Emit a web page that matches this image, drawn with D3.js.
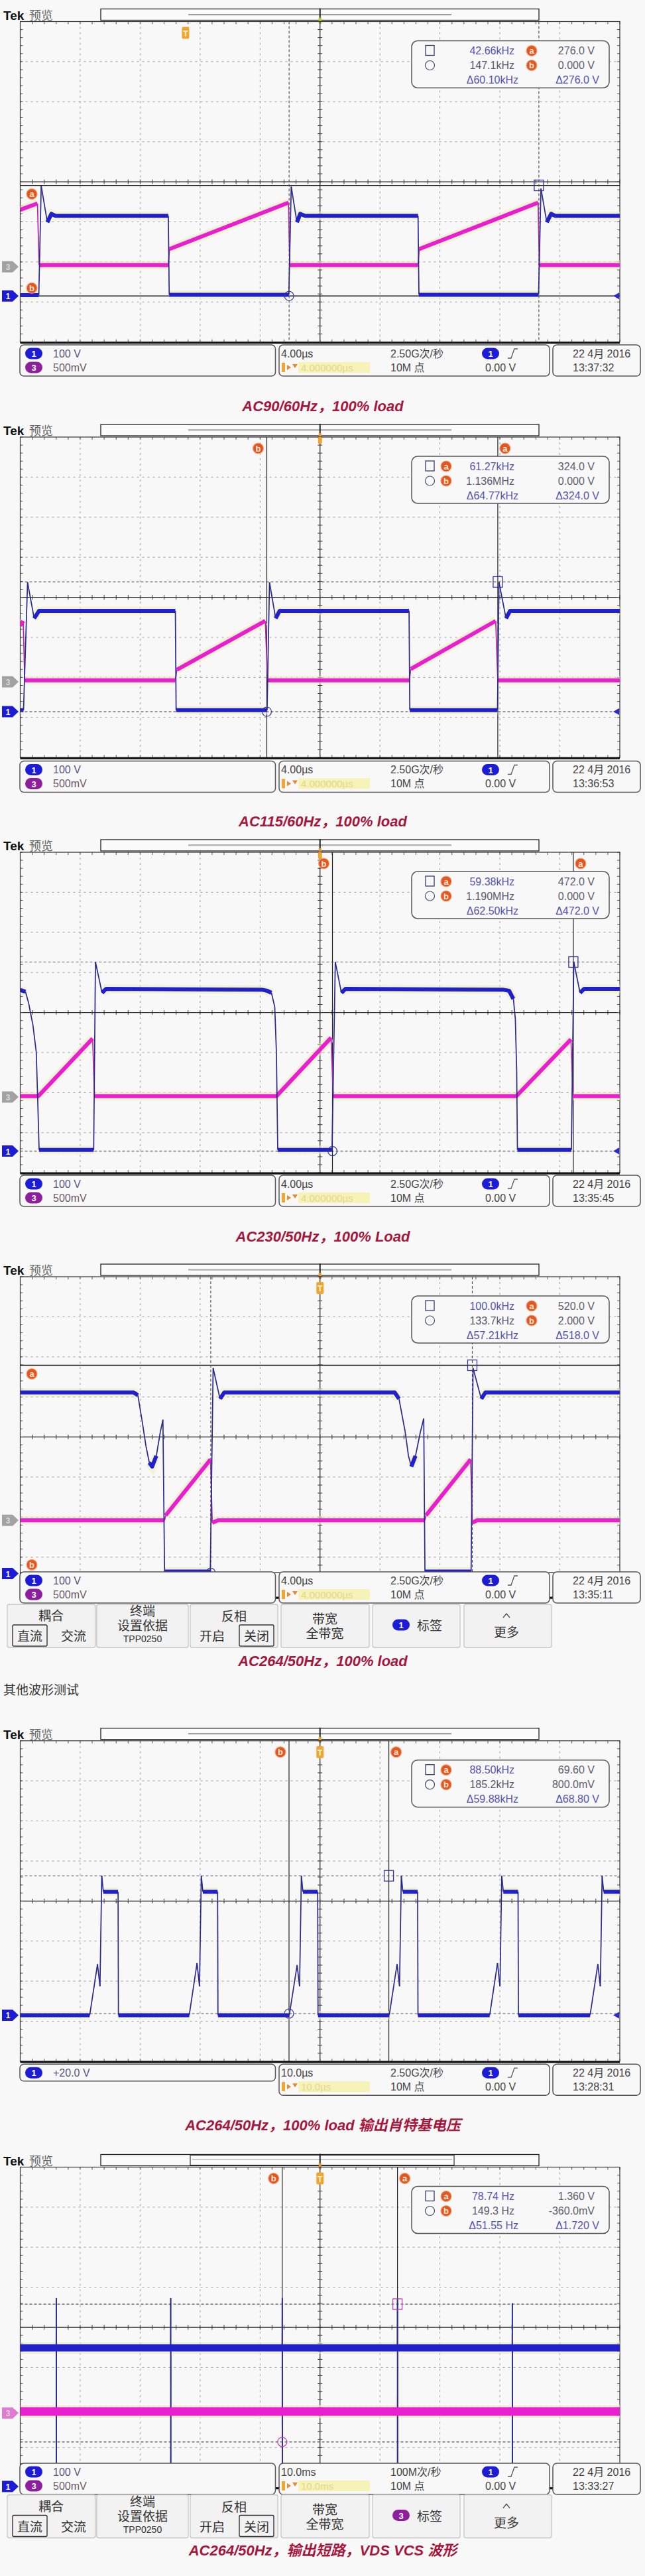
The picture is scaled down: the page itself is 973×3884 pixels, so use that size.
<!DOCTYPE html>
<html><head><meta charset="utf-8">
<script src="https://cdn.jsdelivr.net/npm/d3@7"></script>
<style>body{margin:0;background:#f8f8f8;} svg{display:block;}</style>
</head><body>
<svg id="c" width="973" height="3884"></svg>
<script>
// ---------------- DATA ----------------
const captions = [
  "AC90/60Hz，100% load",
  "AC115/60Hz，100% load",
  "AC230/50Hz，100% Load",
  "AC264/50Hz，100% load",
  "AC264/50Hz，100% load 输出肖特基电压",
  "AC264/50Hz，输出短路，VDS VCS 波形"
];
const sectionLabel = "其他波形测试";
const timePerDiv = [4, 4, 4, 4, 10, 10];
const timebaseText = ["4.00µs", "4.00µs", "4.00µs", "4.00µs", "10.0µs", "10.0ms"];
const sampleRateText = ["2.50G次/秒", "2.50G次/秒", "2.50G次/秒", "2.50G次/秒", "2.50G次/秒", "100M次/秒"];
const recordText = ["10M 点", "10M 点", "10M 点", "10M 点", "10M 点", "10M 点"];
const trigLevelText = ["0.00 V", "0.00 V", "0.00 V", "0.00 V", "0.00 V", "0.00 V"];
const dateText = ["22 4月 2016", "22 4月 2016", "22 4月 2016", "22 4月 2016", "22 4月 2016", "22 4月 2016"];
const clockText = ["13:37:32", "13:36:53", "13:35:45", "13:35:11", "13:28:31", "13:33:27"];
const chScaleText = [
  [["1", "100 V"], ["3", "500mV"]],
  [["1", "100 V"], ["3", "500mV"]],
  [["1", "100 V"], ["3", "500mV"]],
  [["1", "100 V"], ["3", "500mV"]],
  [["1", "+20.0 V"]],
  [["1", "100 V"], ["3", "500mV"]]
];
const measFreq = [
  ["42.66kHz", "147.1kHz", "Δ60.10kHz"],
  ["61.27kHz", "1.136MHz", "Δ64.77kHz"],
  ["59.38kHz", "1.190MHz", "Δ62.50kHz"],
  ["100.0kHz", "133.7kHz", "Δ57.21kHz"],
  ["88.50kHz", "185.2kHz", "Δ59.88kHz"],
  ["78.74 Hz", "149.3 Hz", "Δ51.55 Hz"]
];
const measVolt = [
  ["276.0 V", "0.000 V", "Δ276.0 V"],
  ["324.0 V", "0.000 V", "Δ324.0 V"],
  ["472.0 V", "0.000 V", "Δ472.0 V"],
  ["520.0 V", "2.000 V", "Δ518.0 V"],
  ["69.60 V", "800.0mV", "Δ68.80 V"],
  ["1.360 V", "-360.0mV", "Δ1.720 V"]
];
// cursor values: [a, b]
const cursorTime = [[14.6, -2.06], [11.86, -3.55], [16.9, 0.83], [10.16, -7.29], [11.48, -5.17], [12.92, -6.3]];
const cursorVolt = [[276, 0], [324, 0], [472, 0], [520, 2], [69.6, 0.8], [1.36, -0.36]];
const triggerTime = [-8.97, 0, 0, 0, 0, 0];
const menuLabels = ["耦合", "直流", "交流", "终端", "设置依据", "TPP0250", "反相", "开启", "关闭", "带宽", "全带宽", "标签", "更多"];

// traces: [time, volts]
const p1Ch1 = [[-20,2],[-18.76,2],[-18.6,275],[-18.19,184],[-17.92,205],[-17.64,200],[-10.12,200],[-10.06,3],[-2.08,3],[-1.92,273],[-1.54,184],[-1.32,205],[-0.99,200],[6.54,200],[6.6,3],[14.58,3],[14.74,268],[15.13,184],[15.42,205],[15.7,200],[20,200]];
const p1Ch3 = [[-20,0.71],[-18.85,0.79],[-18.74,0.02],[-10.12,0.02],[-10.04,0.22],[-2.1,0.80],[-2.02,0.02],[6.54,0.02],[6.62,0.22],[14.55,0.80],[14.63,0.02],[20,0.02]];

const p2Ch1 = [[-20,4],[-19.78,4],[-19.51,323],[-19.07,233],[-18.74,252],[-9.65,252],[-9.6,4],[-3.53,4],[-3.37,323],[-2.96,233],[-2.69,252],[5.94,252],[5.99,4],[11.84,4],[11.94,323],[12.41,233],[12.68,252],[20,252]];
const p2Ch3 = [[-20,0.70],[-19.8,0.76],[-19.7,0.02],[-9.65,0.02],[-9.55,0.15],[-3.65,0.76],[-3.5,0.02],[5.96,0.02],[6.06,0.16],[11.72,0.76],[11.86,0.02],[20,0.02]];

const p3Ch1 = [[-20,402],[-19.65,398],[-19.43,368],[-19.15,314],[-18.93,247],[-18.82,112],[-18.74,3],[-15.1,3],[-14.98,472],[-14.54,395],[-14.27,405],[-3.9,403],[-3.51,400],[-3.24,395],[-3.02,360],[-2.91,247],[-2.82,3],[0.8,3],[1.02,472],[1.43,395],[1.7,405],[12.2,403],[12.62,400],[12.9,380],[13.03,330],[13.12,200],[13.17,3],[16.77,3],[16.93,472],[17.35,395],[17.62,405],[20,405]];
const p3Ch3 = [[-20,0.01],[-18.8,0.01],[-15.17,0.73],[-15.04,0.01],[-2.91,0.01],[0.74,0.74],[0.88,0.01],[13.09,0.01],[16.74,0.72],[16.88,0.01],[20,0.01]];

const p4Ch1 = [[-20,452],[-12.43,452],[-12.15,445],[-11.88,384],[-11.61,318],[-11.39,277],[-11.2,267],[-10.92,294],[-10.65,354],[-10.48,384],[-10.37,5],[-7.32,5],[-7.13,513],[-6.67,436],[-6.39,452],[4.99,452],[5.27,436],[5.68,354],[5.9,294],[6.09,267],[6.37,294],[6.7,354],[6.92,387],[7.0,5],[10.08,5],[10.21,513],[10.76,436],[11.03,452],[20,452]];
const p4Ch3 = [[-20,0],[-10.37,0],[-10.3,0.06],[-7.3,0.76],[-7.19,-0.03],[-6.8,0],[7.0,0],[7.07,0.06],[10.05,0.76],[10.16,-0.03],[10.48,0],[20,0]];

const p5Ch1 = [[-50,0],
  [-38.41,0],[-37.11,25.5],[-36.70,14.4],[-36.40,69.6],[-36.14,61.6],[-33.68,61.6],[-33.62,0],
  [-21.81,0],[-20.51,26],[-20.10,14.4],[-19.80,69.6],[-19.54,61.6],[-17.08,61.6],[-17.02,0],
  [-5.12,0],[-3.82,25],[-3.41,14.4],[-3.11,69.6],[-2.85,61.6],[-0.39,61.6],[-0.33,0],
  [11.55,0],[12.85,25.5],[13.26,14.4],[13.56,69.6],[13.82,61.6],[16.28,61.6],[16.34,0],
  [28.30,0],[29.60,26],[30.01,14.4],[30.31,69.6],[30.57,61.6],[33.03,61.6],[33.09,0],
  [45.04,0],[46.34,25.5],[46.75,14.4],[47.05,69.6],[47.31,61.6],[50,61.6]];

const p6Ch1 = [[-50,346],[-44.0,346],[-43.98,470],[-43.97,0],[-43.96,346],[-24.92,346],[-24.9,470],[-24.89,0],[-24.88,346],[-6.32,346],[-6.3,470],[-6.29,0],[-6.28,346],[12.9,346],[12.92,470],[12.93,0],[12.94,346],[32.05,346],[32.07,457],[32.08,0],[32.09,346],[50,346]];
const p6Ch3 = [[-50,0.02],[50,0.02]];

// ---------------- LAYOUT / STYLE ----------------
const svg = d3.select('#c');
const GX0 = 30.5, GX1 = 935, DY = 60.4, GH = 8 * DY;
const FONT = "'Liberation Sans', 'Noto Sans CJK SC', sans-serif";
const CJK = "'Noto Sans CJK SC', 'Liberation Sans', sans-serif";
const BLUE = {color: '#2121cc', thin: '#2a2a8c', halo: '#f2eec0'};
const MAG = {color: '#e91fcf', thin: '#b3289f', halo: '#f2eec0'};

svg.append('rect').attr('width', 973).attr('height', 3884).attr('fill', '#f8f8f8');

const panels = [
  {gt: 32.5, ch: {1: {vdiv: 100, pos: -2.85}, 3: {vdiv: 0.5, pos: -2.12}}, traces: [[3, p1Ch3, 6], [1, p1Ch1, 6]],
   curCh: 1, hStyle: 'solid', vStyle: 'dash', badgeMode: 'h', measBadge: 'right', infoOff: 487.5, menu: false, capY: 612, tBadge: true, ch3Color: '#a2a2a2', rightArrow: true},
  {gt: 659, ch: {1: {vdiv: 100, pos: -2.856}, 3: {vdiv: 0.5, pos: -2.11}}, traces: [[3, p2Ch3, 6], [1, p2Ch1, 6]],
   curCh: 1, hStyle: 'dash', vStyle: 'solid', badgeMode: 'v', measBadge: 'left', infoOff: 488.5, menu: false, capY: 1238, tBadge: false, ch3Color: '#a2a2a2', rightArrow: true},
  {gt: 1285, ch: {1: {vdiv: 100, pos: -3.46}, 3: {vdiv: 0.5, pos: -2.11}}, traces: [[3, p3Ch3, 6], [1, p3Ch1, 6]],
   curCh: 1, hStyle: 'dash', vStyle: 'solid', badgeMode: 'v', measBadge: 'left', infoOff: 487, menu: false, capY: 1864, tBadge: false, ch3Color: '#a2a2a2', rightArrow: true},
  {gt: 1925, ch: {1: {vdiv: 100, pos: -3.41}, 3: {vdiv: 0.5, pos: -2.08}}, traces: [[3, p4Ch3, 6], [1, p4Ch1, 6]],
   curCh: 1, hStyle: 'solid', vStyle: 'dash', badgeMode: 'h', measBadge: 'right', infoOff: 445, menu: true, menuBadge: '1', capY: 2504, tBadge: true, ch3Color: '#a2a2a2', rightArrow: false},
  {gt: 2624.7, ch: {1: {vdiv: 20, pos: -2.85}}, traces: [[1, p5Ch1, 6]],
   curCh: 1, hStyle: 'dash', vStyle: 'solid', badgeMode: 'v', measBadge: 'left', infoOff: 487.5, menu: false, capY: 3204, tBadge: true, rightArrow: true},
  {gt: 3267.5, ch: {1: {vdiv: 100, pos: -3.97}, 3: {vdiv: 0.5, pos: -2.14}}, traces: [[1, p6Ch1, 11], [3, p6Ch3, 13]],
   curCh: 3, hStyle: 'dash', vStyle: 'solid', badgeMode: 'v', measBadge: 'left', infoOff: 446.5, menu: true, menuBadge: '3', capY: 3845, tBadge: true, ch3Color: '#e07ad2', rightArrow: false, zoomBox: true, markColor: '#c23cc0'}
];

function txt(g, x, y, s, opt) {
  opt = opt || {};
  return g.append('text').attr('x', x).attr('y', y)
    .attr('font-family', opt.family || FONT).attr('font-size', opt.size || 15)
    .attr('font-weight', opt.weight || 'normal').attr('font-style', opt.style || 'normal')
    .attr('fill', opt.fill || '#444').attr('text-anchor', opt.anchor || 'start').text(s);
}
function curBadge(g, x, y, letter) {
  g.append('circle').attr('cx', x).attr('cy', y).attr('r', 8).attr('fill', '#e2561f').attr('stroke', '#f4a47c').attr('stroke-width', 1.2);
  txt(g, x, y + 4.5, letter, {size: 13, weight: 'bold', fill: '#ffe9dc', anchor: 'middle'});
}
function trigBadge(g, x, y) {
  g.append('rect').attr('x', x - 5.5).attr('y', y - 9).attr('width', 11).attr('height', 18).attr('rx', 2).attr('fill', '#f0a532');
  txt(g, x, y + 5, 'T', {size: 12, weight: 'bold', fill: '#fff6d0', anchor: 'middle'});
}
function chBadge(g, x, y, n) {
  g.append('rect').attr('x', x - 13).attr('y', y - 8.5).attr('width', 26).attr('height', 17).attr('rx', 8.5)
    .attr('fill', n === '1' ? '#1c1cd6' : '#8d1f9d');
  txt(g, x, y + 5, n, {size: 13, weight: 'bold', fill: '#fff', anchor: 'middle'});
}
function chMarker(g, y, color, n) {
  g.append('path').attr('d', `M3,${y - 8.5}H19L28,${y}L19,${y + 8.5}H3Z`).attr('fill', color);
  txt(g, 12, y + 5, n, {size: 12, weight: 'bold', fill: color === '#1c1cd6' ? '#fff' : '#d8d8d8', anchor: 'middle'});
}

function drawTrace(haloL, lineL, data, xs, ys, st, w) {
  const pts = data.map(d => [xs(d[0]), ys(d[1])]);
  const runs = [], thin = [];
  let cur = [pts[0]];
  for (let i = 1; i < pts.length; i++) {
    const dx = Math.abs(pts[i][0] - pts[i - 1][0]), dy = Math.abs(pts[i][1] - pts[i - 1][1]);
    if (dy > 6 && dy > 3 * dx) {
      if (cur.length > 1) runs.push(cur);
      thin.push([pts[i - 1], pts[i]]);
      cur = [pts[i]];
    } else cur.push(pts[i]);
  }
  if (cur.length > 1) runs.push(cur);
  const line = d3.line();
  runs.forEach(r => haloL.append('path').attr('d', line(r)).attr('fill', 'none').attr('stroke', st.halo)
    .attr('stroke-width', w + 7).attr('opacity', 0.6));
  thin.forEach(s => lineL.append('path').attr('d', line(s)).attr('fill', 'none').attr('stroke', st.thin).attr('stroke-width', 1.7));
  runs.forEach(r => lineL.append('path').attr('d', line(r)).attr('fill', 'none').attr('stroke', st.color)
    .attr('stroke-width', w).attr('stroke-linejoin', 'round'));
}

function drawPanel(c, i) {
  const g = svg.append('g');
  const gt = c.gt, gb = gt + GH;
  const tdiv = timePerDiv[i];
  const xs = d3.scaleLinear().domain([-5 * tdiv, 5 * tdiv]).range([GX0, GX1]);
  const yd = d3.scaleLinear().domain([-4, 4]).range([gb, gt]);
  const ys = {};
  Object.keys(c.ch).forEach(k => {
    const ch = c.ch[k];
    ys[k] = d3.scaleLinear().domain([(-4 - ch.pos) * ch.vdiv, (4 - ch.pos) * ch.vdiv]).range([gb, gt]);
  });
  const cx = xs(0), cy = yd(0);

  // header
  txt(g, 5, gt - 3, 'Tek', {size: 19, weight: 'bold', fill: '#111'});
  txt(g, 44, gt - 3, '预览', {size: 18, family: CJK, fill: '#666'});
  g.append('rect').attr('x', 152).attr('y', gt - 19).attr('width', 661).attr('height', 17).attr('fill', '#fbfbfb').attr('stroke', '#222').attr('stroke-width', 1.3);
  if (c.zoomBox) {
    g.append('rect').attr('x', 287).attr('y', gt - 18).attr('width', 398).attr('height', 15).attr('fill', 'none').attr('stroke', '#333').attr('stroke-width', 1.2);
    g.append('line').attr('x1', 290).attr('x2', 682).attr('y1', gt - 12).attr('y2', gt - 12).attr('stroke', '#999');
  } else {
    g.append('line').attr('x1', 284).attr('x2', 681).attr('y1', gt - 11).attr('y2', gt - 11).attr('stroke', '#777');
    g.append('line').attr('x1', 284).attr('x2', 681).attr('y1', gt - 9.5).attr('y2', gt - 9.5).attr('stroke', '#ccc');
  }
  g.append('line').attr('x1', cx).attr('x2', cx).attr('y1', gt - 20).attr('y2', gt).attr('stroke', '#222').attr('stroke-width', 2);
  g.append('rect').attr('x', cx - 2).attr('y', gt - 6).attr('width', 4).attr('height', 9).attr('fill', i === 0 ? '#b8c030' : '#e89a30');

  // grid
  const grid = g.append('g');
  d3.range(-4, 5).filter(k => k !== 0).forEach(k => {
    grid.append('line').attr('x1', xs(k * tdiv)).attr('x2', xs(k * tdiv)).attr('y1', gt).attr('y2', gb)
      .attr('stroke', '#9a9a9a').attr('stroke-dasharray', '3,5');
  });
  d3.range(-3, 4).filter(k => k !== 0).forEach(k => {
    grid.append('line').attr('x1', GX0).attr('x2', GX1).attr('y1', yd(k)).attr('y2', yd(k))
      .attr('stroke', '#9a9a9a').attr('stroke-dasharray', '3,5');
  });
  grid.append('line').attr('x1', GX0).attr('x2', GX1).attr('y1', cy).attr('y2', cy).attr('stroke', '#222').attr('stroke-width', 1.2);
  grid.append('line').attr('x1', cx).attr('x2', cx).attr('y1', gt).attr('y2', gb).attr('stroke', '#222').attr('stroke-width', 1.2);
  d3.range(-25, 26).forEach(k => {
    const x = xs(k * 0.2 * tdiv);
    grid.append('line').attr('x1', x).attr('x2', x).attr('y1', cy - 3.5).attr('y2', cy + 3.5).attr('stroke', '#333');
    grid.append('line').attr('x1', x).attr('x2', x).attr('y1', gt).attr('y2', gt + 4).attr('stroke', '#555');
    grid.append('line').attr('x1', x).attr('x2', x).attr('y1', gb - 4).attr('y2', gb).attr('stroke', '#555');
  });
  d3.range(-20, 21).forEach(k => {
    const y = yd(k * 0.2);
    grid.append('line').attr('x1', cx - 3.5).attr('x2', cx + 3.5).attr('y1', y).attr('y2', y).attr('stroke', '#333');
    grid.append('line').attr('x1', GX0).attr('x2', GX0 + 4).attr('y1', y).attr('y2', y).attr('stroke', '#555');
    grid.append('line').attr('x1', GX1 - 4).attr('x2', GX1).attr('y1', y).attr('y2', y).attr('stroke', '#555');
  });
  grid.append('rect').attr('x', GX0).attr('y', gt).attr('width', GX1 - GX0).attr('height', GH)
    .attr('fill', 'none').attr('stroke', '#333').attr('stroke-width', 1.2);
  grid.append('line').attr('x1', GX0).attr('x2', GX1).attr('y1', gb + 1).attr('y2', gb + 1).attr('stroke', '#111').attr('stroke-width', 3);

  // cursors
  const ycur = ys[c.curCh];
  const ct = cursorTime[i], cv = cursorVolt[i];
  cv.forEach(v => {
    g.append('line').attr('x1', GX0).attr('x2', GX1).attr('y1', ycur(v)).attr('y2', ycur(v))
      .attr('stroke', c.hStyle === 'solid' ? '#1a1a1a' : '#555').attr('stroke-width', c.hStyle === 'solid' ? 1.3 : 1.2)
      .attr('stroke-dasharray', c.hStyle === 'solid' ? null : '4,3');
  });
  ct.forEach(t => {
    g.append('line').attr('x1', xs(t)).attr('x2', xs(t)).attr('y1', gt).attr('y2', gb)
      .attr('stroke', c.vStyle === 'solid' ? '#222' : '#555').attr('stroke-width', 1.2)
      .attr('stroke-dasharray', c.vStyle === 'solid' ? null : '4,3');
  });

  // traces
  const clipId = 'clip' + i;
  svg.append('clipPath').attr('id', clipId).append('rect').attr('x', GX0).attr('y', gt).attr('width', GX1 - GX0).attr('height', GH);
  const haloL = g.append('g').attr('clip-path', `url(#${clipId})`);
  const lineL = g.append('g').attr('clip-path', `url(#${clipId})`);
  c.traces.forEach(tr => drawTrace(haloL, lineL, tr[1], xs, ys[tr[0]], tr[0] === 1 ? BLUE : MAG, tr[2]));

  // cursor / waveform markers
  const mc = c.markColor || '#34349a';
  g.append('rect').attr('x', xs(ct[0]) - 7).attr('y', ycur(cv[0]) - 8).attr('width', 14).attr('height', 16)
    .attr('fill', 'none').attr('stroke', mc).attr('stroke-width', 1.3);
  g.append('circle').attr('cx', xs(ct[1])).attr('cy', ycur(cv[1])).attr('r', 7)
    .attr('fill', 'none').attr('stroke', mc).attr('stroke-width', 1.2);

  // cursor badges
  if (c.badgeMode === 'h') {
    curBadge(g, 48, ycur(cv[0]) + 13, 'a');
    curBadge(g, 48, ycur(cv[1]) - 12, 'b');
  } else {
    curBadge(g, xs(ct[1]) - 13, gt + 17, 'b');
    curBadge(g, xs(ct[0]) + 11, gt + 17, 'a');
  }
  if (c.tBadge) trigBadge(g, xs(triggerTime[i]), gt + 17);
  else g.append('rect').attr('x', cx - 3).attr('y', gt).attr('width', 6).attr('height', 10).attr('rx', 1.5).attr('fill', '#f0a532');

  // measurement box
  const mb = g.append('g');
  mb.append('rect').attr('x', 621).attr('y', gt + 29).attr('width', 298).attr('height', 71).attr('rx', 9)
    .attr('fill', '#f8f8f8').attr('stroke', '#555').attr('stroke-width', 1.5);
  const rows = [gt + 44, gt + 66, gt + 88];
  mb.append('rect').attr('x', 642).attr('y', rows[0] - 8).attr('width', 13).attr('height', 15).attr('fill', 'none').attr('stroke', '#3a3a66').attr('stroke-width', 1.3);
  mb.append('circle').attr('cx', 648.5).attr('cy', rows[1]).attr('r', 7).attr('fill', 'none').attr('stroke', '#4a4a6a').attr('stroke-width', 1.2);
  const bx = c.measBadge === 'left' ? 673 : 802;
  curBadge(mb, bx, rows[0], 'a');
  curBadge(mb, bx, rows[1], 'b');
  const fr = measFreq[i], vo = measVolt[i];
  txt(mb, 776, rows[0] + 5.5, fr[0], {size: 16, anchor: 'end', fill: '#5454b0'});
  txt(mb, 776, rows[1] + 5.5, fr[1], {size: 16, anchor: 'end', fill: '#5a5a6e'});
  txt(mb, 782, rows[2] + 5.5, fr[2], {size: 16, anchor: 'end', fill: '#5454b0'});
  txt(mb, 897, rows[0] + 5.5, vo[0], {size: 16, anchor: 'end', fill: '#5f5f6e'});
  txt(mb, 897, rows[1] + 5.5, vo[1], {size: 16, anchor: 'end', fill: '#5f5f6e'});
  txt(mb, 904, rows[2] + 5.5, vo[2], {size: 16, anchor: 'end', fill: '#5454b0'});

  // channel markers
  chMarker(g, ys[1](0), '#1c1cd6', '1');
  if (c.ch[3]) chMarker(g, ys[3](0), c.ch3Color, '3');
  if (c.rightArrow) {
    const y = ys[1](0);
    g.append('path').attr('d', `M934,${y - 5}L925,${y}L934,${y + 5}Z`).attr('fill', '#2a2ad0');
  }

  // info bar
  const it = gt + c.infoOff;
  const ib = g.append('g');
  const chRows = chScaleText[i];
  const lh = chRows.length === 1 ? 25.5 : 47;
  ib.append('rect').attr('x', 30).attr('y', it).attr('width', 385.5).attr('height', lh).attr('rx', 6).attr('fill', '#f8f8f8').attr('stroke', '#555').attr('stroke-width', 1.5);
  ib.append('rect').attr('x', 421).attr('y', it).attr('width', 408).attr('height', 47).attr('rx', 6).attr('fill', '#f8f8f8').attr('stroke', '#555').attr('stroke-width', 1.5);
  ib.append('rect').attr('x', 834).attr('y', it).attr('width', 132).attr('height', 47).attr('rx', 6).attr('fill', '#f8f8f8').attr('stroke', '#555').attr('stroke-width', 1.5);
  const r1 = it + 13, r2 = it + 34;
  chRows.forEach((r, k) => {
    const y = k === 0 ? r1 : r2;
    chBadge(ib, 51, y, r[0]);
    txt(ib, 80, y + 5.5, r[1], {size: 16, fill: k === 0 ? '#55557a' : '#6a5a6a'});
  });
  txt(ib, 424, r1 + 5.5, timebaseText[i], {size: 16, fill: '#444'});
  ib.append('rect').attr('x', 425).attr('y', r2 - 7).attr('width', 5).attr('height', 14).attr('fill', '#f0a532');
  ib.append('path').attr('d', `M433,${r2 - 4}L439,${r2}L433,${r2 + 4}Z M441,${r2 - 5}L449,${r2 - 5}L445,${r2 + 1}Z`).attr('fill', '#e88a30');
  ib.append('rect').attr('x', 450).attr('y', r2 - 8).attr('width', 108).attr('height', 16).attr('fill', '#f6f2b8');
  txt(ib, 454, r2 + 5.5, timebaseText[i].replace('.00', '.000000'), {size: 15, fill: '#e2d98e'});
  txt(ib, 589, r1 + 5.5, sampleRateText[i], {size: 16, fill: '#444'});
  txt(ib, 589, r2 + 5.5, recordText[i], {size: 16, fill: '#444'});
  chBadge(ib, 740, r1, '1');
  ib.append('path').attr('d', `M766,${r1 + 7}L771,${r1 + 7}L776,${r1 - 7}L781,${r1 - 7}`).attr('fill', 'none').attr('stroke', '#555').attr('stroke-width', 1.3);
  txt(ib, 732, r2 + 5.5, trigLevelText[i], {size: 16, fill: '#444'});
  txt(ib, 864, r1 + 5.5, dateText[i], {size: 16, fill: '#444'});
  txt(ib, 864, r2 + 5.5, clockText[i], {size: 16, fill: '#444'});

  // menu bar
  if (c.menu) {
    const mt = gt + 494;
    const mg = g.append('g');
    const btn = [[11, 144], [146, 284], [287, 419], [424, 557], [562, 694], [700, 832]];
    btn.forEach(b => mg.append('rect').attr('x', b[0]).attr('y', mt).attr('width', b[1] - b[0]).attr('height', 65).attr('rx', 3)
      .attr('fill', '#f2f2f2').attr('stroke', '#c6c6c6').attr('stroke-width', 1.3));
    const o = {size: 19, family: CJK, fill: '#333', anchor: 'middle'};
    txt(mg, 77, mt + 24, menuLabels[0], o);
    mg.append('rect').attr('x', 19).attr('y', mt + 31).attr('width', 52).attr('height', 32).attr('rx', 2).attr('fill', 'none').attr('stroke', '#333').attr('stroke-width', 1.4);
    txt(mg, 45, mt + 55, menuLabels[1], o);
    txt(mg, 111, mt + 55, menuLabels[2], o);
    txt(mg, 215, mt + 17, menuLabels[3], o);
    txt(mg, 215, mt + 39, menuLabels[4], o);
    txt(mg, 215, mt + 57, menuLabels[5], {size: 14, fill: '#333', anchor: 'middle'});
    txt(mg, 353, mt + 25, menuLabels[6], o);
    txt(mg, 320, mt + 55, menuLabels[7], o);
    mg.append('rect').attr('x', 361).attr('y', mt + 31).attr('width', 52).attr('height', 32).attr('rx', 2).attr('fill', 'none').attr('stroke', '#333').attr('stroke-width', 1.4);
    txt(mg, 387, mt + 55, menuLabels[8], o);
    txt(mg, 490, mt + 29, menuLabels[9], o);
    txt(mg, 490, mt + 51, menuLabels[10], o);
    chBadge(mg, 605, mt + 31, c.menuBadge);
    txt(mg, 648, mt + 39, menuLabels[11], o);
    mg.append('path').attr('d', `M759,${mt + 20}L764,${mt + 14}L769,${mt + 20}`).attr('fill', 'none').attr('stroke', '#444').attr('stroke-width', 1.2);
    txt(mg, 764, mt + 49, menuLabels[12], o);
  }

  // caption
  txt(g, 487, c.capY + 8, captions[i], {size: 22, weight: 'bold', style: 'italic', fill: '#a5173d', anchor: 'middle'});
}

panels.forEach((c, i) => drawPanel(c, i));
txt(svg, 5, 2555, sectionLabel, {size: 19, family: CJK, fill: '#333'});
</script>
</body></html>
